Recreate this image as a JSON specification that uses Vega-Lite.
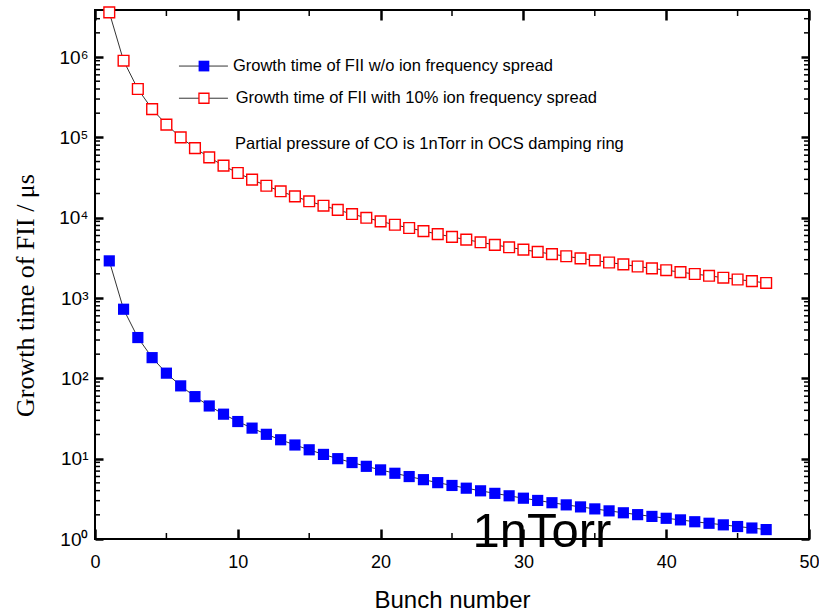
{
  "$schema": "https://vega.github.io/schema/vega-lite/v6.json",
  "width": 714,
  "height": 529,
  "autosize": {"type": "none"},
  "padding": {"left": 95, "top": 10, "right": 10, "bottom": 72},
  "background": "white",
  "config": {
    "view": {"stroke": "black", "strokeWidth": 2},
    "font": "Liberation Sans",
    "axis": {"grid": false, "domain": false, "labelFlush": false, "labelOverlap": false}
  },
  "datasets": {
    "series": [
      {"n":1,"s":"a","t":2900},{"n":2,"s":"a","t":725},{"n":3,"s":"a","t":322},{"n":4,"s":"a","t":181},{"n":5,"s":"a","t":116},
      {"n":6,"s":"a","t":80.6},{"n":7,"s":"a","t":59.2},{"n":8,"s":"a","t":45.3},{"n":9,"s":"a","t":35.8},{"n":10,"s":"a","t":29.0},
      {"n":11,"s":"a","t":24.0},{"n":12,"s":"a","t":20.1},{"n":13,"s":"a","t":17.2},{"n":14,"s":"a","t":14.8},{"n":15,"s":"a","t":12.9},
      {"n":16,"s":"a","t":11.3},{"n":17,"s":"a","t":10.0},{"n":18,"s":"a","t":8.95},{"n":19,"s":"a","t":8.03},{"n":20,"s":"a","t":7.25},
      {"n":21,"s":"a","t":6.58},{"n":22,"s":"a","t":5.99},{"n":23,"s":"a","t":5.48},{"n":24,"s":"a","t":5.03},{"n":25,"s":"a","t":4.64},
      {"n":26,"s":"a","t":4.29},{"n":27,"s":"a","t":3.98},{"n":28,"s":"a","t":3.70},{"n":29,"s":"a","t":3.45},{"n":30,"s":"a","t":3.22},
      {"n":31,"s":"a","t":3.02},{"n":32,"s":"a","t":2.83},{"n":33,"s":"a","t":2.66},{"n":34,"s":"a","t":2.51},{"n":35,"s":"a","t":2.37},
      {"n":36,"s":"a","t":2.24},{"n":37,"s":"a","t":2.12},{"n":38,"s":"a","t":2.01},{"n":39,"s":"a","t":1.91},{"n":40,"s":"a","t":1.81},
      {"n":41,"s":"a","t":1.73},{"n":42,"s":"a","t":1.64},{"n":43,"s":"a","t":1.57},{"n":44,"s":"a","t":1.50},{"n":45,"s":"a","t":1.43},
      {"n":46,"s":"a","t":1.37},{"n":47,"s":"a","t":1.31},
      {"n":1,"s":"b","t":3600000},{"n":2,"s":"b","t":900000},{"n":3,"s":"b","t":400000},{"n":4,"s":"b","t":225000},{"n":5,"s":"b","t":144000},
      {"n":6,"s":"b","t":100000},{"n":7,"s":"b","t":73500},{"n":8,"s":"b","t":56300},{"n":9,"s":"b","t":44400},{"n":10,"s":"b","t":36000},
      {"n":11,"s":"b","t":29800},{"n":12,"s":"b","t":25000},{"n":13,"s":"b","t":21300},{"n":14,"s":"b","t":18400},{"n":15,"s":"b","t":16000},
      {"n":16,"s":"b","t":14100},{"n":17,"s":"b","t":12500},{"n":18,"s":"b","t":11100},{"n":19,"s":"b","t":9970},{"n":20,"s":"b","t":9000},
      {"n":21,"s":"b","t":8160},{"n":22,"s":"b","t":7440},{"n":23,"s":"b","t":6810},{"n":24,"s":"b","t":6250},{"n":25,"s":"b","t":5760},
      {"n":26,"s":"b","t":5330},{"n":27,"s":"b","t":4940},{"n":28,"s":"b","t":4590},{"n":29,"s":"b","t":4280},{"n":30,"s":"b","t":4000},
      {"n":31,"s":"b","t":3750},{"n":32,"s":"b","t":3520},{"n":33,"s":"b","t":3310},{"n":34,"s":"b","t":3110},{"n":35,"s":"b","t":2940},
      {"n":36,"s":"b","t":2770},{"n":37,"s":"b","t":2620},{"n":38,"s":"b","t":2470},{"n":39,"s":"b","t":2340},{"n":40,"s":"b","t":2220},
      {"n":41,"s":"b","t":2100},{"n":42,"s":"b","t":1990},{"n":43,"s":"b","t":1890},{"n":44,"s":"b","t":1790},{"n":45,"s":"b","t":1700},
      {"n":46,"s":"b","t":1620},{"n":47,"s":"b","t":1540}
    ],
    "key": [
      {"s":"a","x1":5.88,"x2":9.31,"xm":7.63,"xt":9.66,"y":772000,"label":"Growth time of FII w/o ion frequency spread"},
      {"s":"b","x1":5.88,"x2":9.31,"xm":7.63,"xt":9.85,"y":307000,"label":"Growth time of FII with 10% ion frequency spread"},
      {"s":"c","x1":5.88,"x2":9.31,"xm":7.63,"xt":9.8,"y":81700,"label":"Partial pressure of CO is 1nTorr in OCS damping ring"}
    ],
    "yminor": [
      {"v":2},{"v":3},{"v":4},{"v":5},{"v":6},{"v":7},{"v":8},{"v":9},
      {"v":20},{"v":30},{"v":40},{"v":50},{"v":60},{"v":70},{"v":80},{"v":90},
      {"v":200},{"v":300},{"v":400},{"v":500},{"v":600},{"v":700},{"v":800},{"v":900},
      {"v":2000},{"v":3000},{"v":4000},{"v":5000},{"v":6000},{"v":7000},{"v":8000},{"v":9000},
      {"v":20000},{"v":30000},{"v":40000},{"v":50000},{"v":60000},{"v":70000},{"v":80000},{"v":90000},
      {"v":200000},{"v":300000},{"v":400000},{"v":500000},{"v":600000},{"v":700000},{"v":800000},{"v":900000},
      {"v":2000000},{"v":3000000}
    ],
    "xminor": [{"v":5},{"v":15},{"v":25},{"v":35},{"v":45}],
    "note": [{"x":31.3,"y":0.795,"label":"1nTorr"}]
  },
  "resolve": {"axis": {"x": "independent", "y": "independent"}},
  "layer": [
    {
      "data": {"name": "series"},
      "mark": {"type": "line", "color": "black", "strokeWidth": 0.8},
      "encoding": {
        "x": {"field": "n", "type": "quantitative", "scale": {"domain": [0, 50], "nice": false, "zero": false},
          "axis": {"orient": "bottom", "values": [0,10,20,30,40,50], "tickSize": -10, "tickWidth": 2.5, "tickColor": "black", "labelPadding": 24, "labelFontSize": 18, "labelColor": "black",
            "title": "Bunch number", "titleFontSize": 24, "titleFontWeight": "normal", "titleColor": "black", "titleX": 357, "titleY": 68, "titleBaseline": "alphabetic", "titleAlign": "center"}},
        "y": {"field": "t", "type": "quantitative", "scale": {"type": "log", "domain": [1, 3850000], "nice": false},
          "axis": {"orient": "left", "values": [1,10,100,1000,10000,100000,1000000], "tickSize": -8, "tickWidth": 2.5, "tickColor": "black", "labelPadding": 15, "labelFontSize": 19, "labelColor": "black",
            "labelExpr": "'10' + ['⁰','¹','²','³','⁴','⁵','⁶'][round(log(datum.value)/LN10)]",
            "title": "Growth time of FII / μs", "titleFont": "Liberation Serif", "titleFontSize": 26, "titleFontWeight": "normal", "titleColor": "black", "titleAngle": -90, "titleX": -62, "titleY": 285, "titleBaseline": "alphabetic", "titleAlign": "center"}},
        "detail": {"field": "s"}
      }
    },
    {
      "data": {"name": "series"},
      "transform": [{"filter": "datum.s === 'b'"}],
      "mark": {"type": "point", "shape": "square", "filled": true, "fill": "white", "stroke": "#ff0000", "strokeWidth": 1.4, "size": 115, "opacity": 1},
      "encoding": {
        "x": {"field": "n", "type": "quantitative", "scale": {"domain": [0, 50], "nice": false, "zero": false},
          "axis": {"orient": "top", "values": [0,10,20,30,40,50], "tickSize": -10, "tickWidth": 2.5, "tickColor": "black", "labels": false, "title": null}},
        "y": {"field": "t", "type": "quantitative", "scale": {"type": "log", "domain": [1, 3850000], "nice": false},
          "axis": {"orient": "right", "values": [1,10,100,1000,10000,100000,1000000], "offset": -8, "tickSize": 8, "tickWidth": 2.5, "tickColor": "black", "labels": false, "title": null}}
      }
    },
    {
      "data": {"name": "series"},
      "transform": [{"filter": "datum.s === 'a'"}],
      "mark": {"type": "point", "shape": "square", "filled": true, "color": "#0000ff", "size": 125, "opacity": 1},
      "encoding": {
        "x": {"field": "n", "type": "quantitative", "scale": {"domain": [0, 50], "nice": false, "zero": false}, "axis": null},
        "y": {"field": "t", "type": "quantitative", "scale": {"type": "log", "domain": [1, 3850000], "nice": false}, "axis": null}
      }
    },
    {
      "data": {"name": "yminor"},
      "mark": {"type": "tick", "orient": "horizontal", "color": "black", "opacity": 1, "size": 10, "thickness": 1.5, "clip": true},
      "encoding": {
        "x": {"datum": 0, "type": "quantitative", "scale": {"domain": [0, 50], "nice": false, "zero": false}, "axis": null},
        "y": {"field": "v", "type": "quantitative", "scale": {"type": "log", "domain": [1, 3850000], "nice": false}, "axis": null}
      }
    },
    {
      "data": {"name": "yminor"},
      "mark": {"type": "tick", "orient": "horizontal", "color": "black", "opacity": 1, "size": 10, "thickness": 1.5, "clip": true},
      "encoding": {
        "x": {"datum": 50, "type": "quantitative", "scale": {"domain": [0, 50], "nice": false, "zero": false}, "axis": null},
        "y": {"field": "v", "type": "quantitative", "scale": {"type": "log", "domain": [1, 3850000], "nice": false}, "axis": null}
      }
    },
    {
      "data": {"name": "xminor"},
      "mark": {"type": "tick", "orient": "vertical", "color": "black", "opacity": 1, "size": 12, "thickness": 1.5, "clip": true},
      "encoding": {
        "x": {"field": "v", "type": "quantitative", "scale": {"domain": [0, 50], "nice": false, "zero": false}, "axis": null},
        "y": {"datum": 1, "type": "quantitative", "scale": {"type": "log", "domain": [1, 3850000], "nice": false}, "axis": null}
      }
    },
    {
      "data": {"name": "xminor"},
      "mark": {"type": "tick", "orient": "vertical", "color": "black", "opacity": 1, "size": 12, "thickness": 1.5, "clip": true},
      "encoding": {
        "x": {"field": "v", "type": "quantitative", "scale": {"domain": [0, 50], "nice": false, "zero": false}, "axis": null},
        "y": {"datum": 3850000, "type": "quantitative", "scale": {"type": "log", "domain": [1, 3850000], "nice": false}, "axis": null}
      }
    },
    {
      "data": {"name": "key"},
      "transform": [{"filter": "datum.s !== 'c'"}],
      "mark": {"type": "rule", "color": "black", "strokeWidth": 0.8},
      "encoding": {
        "x": {"field": "x1", "type": "quantitative", "scale": {"domain": [0, 50], "nice": false, "zero": false}, "axis": null},
        "x2": {"field": "x2"},
        "y": {"field": "y", "type": "quantitative", "scale": {"type": "log", "domain": [1, 3850000], "nice": false}, "axis": null}
      }
    },
    {
      "data": {"name": "key"},
      "transform": [{"filter": "datum.s === 'a'"}],
      "mark": {"type": "point", "shape": "square", "filled": true, "color": "#0000ff", "size": 115, "opacity": 1},
      "encoding": {
        "x": {"field": "xm", "type": "quantitative", "scale": {"domain": [0, 50], "nice": false, "zero": false}, "axis": null},
        "y": {"field": "y", "type": "quantitative", "scale": {"type": "log", "domain": [1, 3850000], "nice": false}, "axis": null}
      }
    },
    {
      "data": {"name": "key"},
      "transform": [{"filter": "datum.s === 'b'"}],
      "mark": {"type": "point", "shape": "square", "filled": true, "fill": "white", "stroke": "#ff0000", "strokeWidth": 1.3, "size": 100, "opacity": 1},
      "encoding": {
        "x": {"field": "xm", "type": "quantitative", "scale": {"domain": [0, 50], "nice": false, "zero": false}, "axis": null},
        "y": {"field": "y", "type": "quantitative", "scale": {"type": "log", "domain": [1, 3850000], "nice": false}, "axis": null}
      }
    },
    {
      "data": {"name": "key"},
      "mark": {"type": "text", "align": "left", "baseline": "middle", "fontSize": 16.5, "color": "black", "font": "Liberation Sans"},
      "encoding": {
        "x": {"field": "xt", "type": "quantitative", "scale": {"domain": [0, 50], "nice": false, "zero": false}, "axis": null},
        "y": {"field": "y", "type": "quantitative", "scale": {"type": "log", "domain": [1, 3850000], "nice": false}, "axis": null},
        "text": {"field": "label"}
      }
    },
    {
      "data": {"name": "note"},
      "mark": {"type": "text", "align": "center", "baseline": "alphabetic", "fontSize": 49, "color": "black", "font": "Liberation Sans"},
      "encoding": {
        "x": {"field": "x", "type": "quantitative", "scale": {"domain": [0, 50], "nice": false, "zero": false}, "axis": null},
        "y": {"field": "y", "type": "quantitative", "scale": {"type": "log", "domain": [1, 3850000], "nice": false}, "axis": null},
        "text": {"field": "label"}
      }
    }
  ]
}
